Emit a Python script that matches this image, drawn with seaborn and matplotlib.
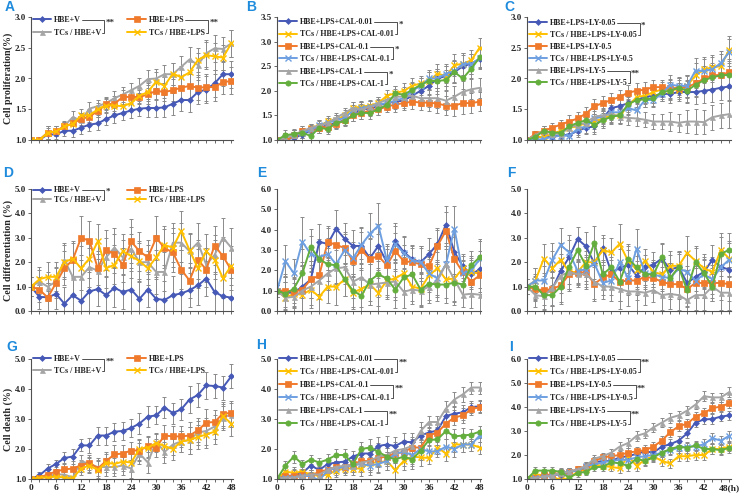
import matplotlib
matplotlib.use("Agg")
import matplotlib.pyplot as plt
import seaborn as sns
import numpy as np

sns.set_style("ticks")
plt.rcParams["font.family"] = ["Liberation Serif", "DejaVu Serif"]
plt.rcParams["font.weight"] = "bold"
plt.rcParams["axes.labelweight"] = "bold"

# ---------------- data ----------------
HOURS = [0, 2, 4, 6, 8, 10, 12, 14, 16, 18, 20, 22, 24, 26, 28, 30, 32, 34, 36, 38, 40, 42, 44, 46, 48]
XLAB_BOTTOM = ["0", "", "", "6", "", "", "12", "", "", "18", "", "", "24", "", "", "30", "", "", "36", "", "", "42", "", "", "48"]
XLAB_BOTTOM_H = ["0", "", "", "6", "", "", "12", "", "", "18", "", "", "24", "", "", "30", "", "", "36", "", "", "42", "", "", "48(h)"]

LABELS_V = ["HBE+V", "TCs / HBE+V", "HBE+LPS", "TCs / HBE+LPS"]
LABELS_CAL = ["HBE+LPS+CAL-0.01", "TCs / HBE+LPS+CAL-0.01", "HBE+LPS+CAL-0.1",
              "TCs / HBE+LPS+CAL-0.1", "HBE+LPS+CAL-1", "TCs / HBE+LPS+CAL-1"]
LABELS_LY = ["HBE+LPS+LY-0.05", "TCs / HBE+LPS+LY-0.05", "HBE+LPS+LY-0.5",
             "TCs / HBE+LPS+LY-0.5", "HBE+LPS+LY-5", "TCs / HBE+LPS+LY-5"]

# Panel A - proliferation
A_HBE_V = [1.00, 1.00, 1.09, 1.09, 1.15, 1.15, 1.20, 1.25, 1.27, 1.34, 1.40, 1.44, 1.48, 1.51, 1.52, 1.52, 1.53, 1.59, 1.65, 1.65, 1.78, 1.82, 1.92, 2.07, 2.07]
A_TCS_V = [1.00, 1.00, 1.12, 1.14, 1.23, 1.37, 1.32, 1.51, 1.55, 1.60, 1.68, 1.74, 1.81, 1.88, 1.99, 2.00, 2.07, 2.07, 2.19, 2.31, 2.22, 2.41, 2.49, 2.48, 2.57]
A_HBE_LPS = [1.00, 1.00, 1.12, 1.14, 1.22, 1.27, 1.34, 1.38, 1.47, 1.58, 1.59, 1.70, 1.70, 1.70, 1.74, 1.80, 1.78, 1.81, 1.85, 1.88, 1.85, 1.86, 1.86, 1.94, 1.96]
A_TCS_LPS = [1.00, 1.00, 1.12, 1.14, 1.22, 1.26, 1.40, 1.40, 1.50, 1.56, 1.56, 1.55, 1.60, 1.72, 1.78, 1.95, 1.88, 2.08, 2.02, 2.10, 2.30, 2.38, 2.36, 2.34, 2.57]
A_ERR = [0.0, 0.05, 0.10, 0.08, 0.08, 0.10, 0.10, 0.10, 0.10, 0.10, 0.12, 0.12, 0.12, 0.12, 0.15, 0.15, 0.15, 0.18, 0.18, 0.20, 0.20, 0.22, 0.22, 0.20, 0.22]

# Panel B - proliferation, CAL
B_CAL001 = [1.00, 1.00, 1.05, 1.10, 1.20, 1.25, 1.30, 1.35, 1.40, 1.50, 1.65, 1.62, 1.70, 1.75, 1.78, 1.80, 1.90, 2.00, 2.10, 2.25, 2.30, 2.38, 2.50, 2.55, 2.65]
B_TCS001 = [1.00, 0.98, 1.10, 1.15, 1.25, 1.28, 1.38, 1.40, 1.50, 1.65, 1.68, 1.70, 1.75, 1.90, 1.95, 2.00, 2.10, 2.15, 2.20, 2.35, 2.30, 2.52, 2.55, 2.62, 2.88]
B_CAL01 = [1.00, 0.97, 1.10, 1.18, 1.22, 1.25, 1.27, 1.32, 1.40, 1.50, 1.55, 1.60, 1.62, 1.68, 1.72, 1.75, 1.78, 1.76, 1.76, 1.74, 1.70, 1.70, 1.75, 1.75, 1.78]
B_TCS01 = [1.00, 1.05, 1.10, 1.15, 1.20, 1.30, 1.35, 1.40, 1.45, 1.60, 1.65, 1.68, 1.72, 1.75, 1.80, 1.85, 2.00, 2.10, 2.25, 2.25, 2.35, 2.40, 2.55, 2.55, 2.66]
B_CAL1 = [1.00, 1.05, 1.10, 1.18, 1.25, 1.30, 1.35, 1.45, 1.55, 1.65, 1.62, 1.68, 1.75, 1.82, 1.88, 1.88, 1.90, 1.85, 1.85, 1.85, 1.80, 1.88, 1.98, 2.03, 2.06]
B_TCS1 = [1.00, 1.10, 1.12, 1.15, 1.08, 1.25, 1.22, 1.35, 1.38, 1.50, 1.55, 1.55, 1.62, 1.72, 1.95, 1.92, 2.02, 2.12, 2.20, 2.20, 2.22, 2.38, 2.25, 2.45, 2.68]
B_ERR = [0.0, 0.10, 0.10, 0.10, 0.08, 0.10, 0.10, 0.10, 0.10, 0.12, 0.12, 0.12, 0.12, 0.12, 0.15, 0.15, 0.15, 0.15, 0.18, 0.20, 0.20, 0.22, 0.22, 0.20, 0.20]

# Panel C - proliferation, LY
C_LY005 = [1.00, 1.05, 1.05, 1.05, 1.08, 1.08, 1.15, 1.20, 1.22, 1.35, 1.52, 1.55, 1.60, 1.65, 1.70, 1.72, 1.75, 1.75, 1.78, 1.78, 1.78, 1.80, 1.82, 1.85, 1.87]
C_TCS005 = [1.00, 1.05, 1.05, 1.10, 1.15, 1.20, 1.22, 1.28, 1.30, 1.35, 1.40, 1.40, 1.55, 1.70, 1.72, 1.78, 1.82, 1.82, 1.82, 1.88, 2.05, 2.15, 2.18, 2.20, 2.47]
C_LY05 = [1.00, 1.10, 1.15, 1.20, 1.25, 1.30, 1.35, 1.43, 1.55, 1.60, 1.65, 1.70, 1.77, 1.80, 1.82, 1.86, 1.86, 1.84, 1.85, 1.86, 1.92, 2.00, 2.05, 2.06, 2.10]
C_TCS05 = [1.00, 1.00, 1.02, 1.05, 1.07, 1.07, 1.18, 1.22, 1.35, 1.38, 1.45, 1.45, 1.52, 1.48, 1.65, 1.65, 1.75, 1.90, 1.88, 1.88, 2.13, 2.12, 2.15, 2.25, 2.43]
C_LY5 = [1.00, 1.08, 1.15, 1.10, 1.10, 1.20, 1.25, 1.28, 1.38, 1.40, 1.42, 1.38, 1.36, 1.35, 1.33, 1.30, 1.30, 1.30, 1.28, 1.30, 1.30, 1.29, 1.37, 1.40, 1.42]
C_TCS5 = [1.00, 1.05, 1.15, 1.12, 1.12, 1.22, 1.28, 1.32, 1.25, 1.32, 1.38, 1.40, 1.58, 1.65, 1.66, 1.68, 1.78, 1.80, 1.85, 1.80, 1.90, 1.97, 2.02, 2.05, 2.06]
C_ERR = [0.0, 0.05, 0.08, 0.08, 0.08, 0.10, 0.10, 0.10, 0.12, 0.12, 0.12, 0.12, 0.12, 0.12, 0.12, 0.12, 0.12, 0.15, 0.15, 0.18, 0.20, 0.20, 0.20, 0.20, 0.22]

# Panel D - differentiation
D_HBE_V = [1.00, 0.58, 0.56, 0.70, 0.30, 0.65, 0.42, 0.80, 0.90, 0.65, 0.95, 0.78, 0.88, 0.50, 0.88, 0.50, 0.45, 0.65, 0.72, 0.85, 1.05, 1.33, 0.78, 0.60, 0.55]
D_TCS_V = [1.00, 1.20, 1.00, 1.20, 2.10, 1.40, 1.40, 1.80, 1.65, 2.20, 2.60, 2.20, 2.55, 2.00, 2.00, 1.60, 1.60, 2.80, 2.80, 2.45, 2.80, 1.90, 2.30, 3.00, 2.60]
D_HBE_LPS = [1.00, 0.88, 0.55, 1.15, 1.75, 2.10, 3.00, 2.88, 1.75, 2.50, 2.35, 1.90, 2.85, 2.45, 2.20, 3.00, 2.58, 2.40, 1.70, 1.25, 2.10, 1.70, 2.68, 2.25, 1.68]
D_TCS_LPS = [1.00, 1.30, 1.40, 1.40, 2.00, 2.15, 1.75, 2.15, 2.85, 1.75, 1.90, 2.45, 2.25, 2.05, 1.75, 2.20, 2.70, 2.60, 3.28, 2.50, 1.75, 2.45, 2.10, 1.35, 1.85]
D_ERR = [0.40, 0.50, 0.60, 0.60, 0.70, 0.70, 0.90, 0.80, 0.70, 0.80, 0.80, 0.70, 0.90, 0.80, 0.70, 0.90, 0.80, 0.80, 0.80, 0.70, 0.80, 0.70, 0.80, 0.80, 0.80]

# Panel E - differentiation, CAL
E_CAL001 = [1.00, 0.90, 0.90, 1.20, 1.55, 3.40, 3.30, 4.05, 3.55, 3.20, 3.20, 2.60, 3.20, 2.40, 3.45, 2.90, 2.55, 2.40, 2.80, 3.30, 4.25, 2.90, 2.20, 1.80, 2.05]
E_TCS001 = [1.00, 0.65, 0.85, 0.80, 1.05, 0.70, 1.20, 1.20, 1.55, 0.90, 1.10, 1.30, 0.90, 1.50, 1.60, 1.85, 1.20, 1.10, 1.75, 2.10, 1.55, 1.60, 2.10, 1.90, 1.85]
E_CAL01 = [1.00, 1.00, 0.95, 1.05, 1.55, 1.75, 3.40, 3.25, 3.10, 2.45, 3.00, 2.55, 2.70, 2.25, 2.95, 2.45, 2.40, 2.30, 2.20, 3.20, 3.95, 2.55, 1.90, 1.45, 1.75]
E_TCS01 = [1.00, 2.45, 1.85, 3.40, 2.80, 2.65, 2.80, 2.30, 3.00, 2.60, 3.25, 3.80, 4.20, 2.50, 3.30, 2.85, 2.50, 2.40, 1.85, 1.60, 2.30, 4.05, 1.85, 2.00, 2.55]
E_CAL1 = [1.00, 0.65, 0.70, 1.00, 1.20, 1.50, 1.85, 2.10, 2.15, 1.45, 1.65, 1.30, 1.35, 1.40, 1.45, 0.95, 1.05, 1.00, 1.20, 1.50, 2.30, 1.55, 0.80, 0.85, 0.80]
E_TCS1 = [1.00, 0.85, 1.10, 1.85, 3.15, 2.55, 2.30, 2.25, 1.55, 1.00, 0.75, 1.50, 1.80, 1.60, 1.05, 1.65, 1.80, 1.05, 1.35, 1.30, 1.30, 1.40, 1.30, 2.25, 2.65]
E_ERR = [0.30, 0.80, 0.70, 1.20, 0.90, 0.90, 0.80, 0.90, 0.80, 0.80, 0.90, 1.00, 1.10, 0.80, 0.90, 0.80, 0.70, 0.80, 0.80, 0.80, 0.90, 1.10, 0.60, 0.70, 0.90]

# Panel F - differentiation, LY
F_LY005 = [1.00, 0.95, 0.70, 0.90, 1.65, 2.20, 2.95, 2.65, 1.95, 2.60, 1.60, 1.75, 1.90, 1.45, 1.80, 1.90, 2.15, 1.70, 1.80, 1.15, 1.40, 1.60, 2.10, 1.80, 1.70]
F_TCS005 = [1.00, 1.25, 2.15, 1.75, 2.10, 1.60, 1.60, 2.00, 2.00, 2.50, 2.40, 2.75, 2.05, 1.70, 2.05, 1.60, 1.50, 1.85, 1.85, 2.38, 2.05, 1.75, 1.60, 2.50, 2.15]
F_LY05 = [1.00, 0.90, 0.85, 0.90, 1.05, 1.50, 1.55, 1.60, 1.10, 1.38, 1.50, 1.20, 1.25, 1.25, 1.40, 1.35, 1.20, 1.10, 1.10, 0.90, 1.15, 1.15, 1.15, 1.15, 1.10]
F_TCS05 = [1.00, 1.25, 1.25, 2.10, 2.70, 2.40, 1.65, 1.70, 1.95, 1.15, 1.25, 2.00, 1.35, 2.55, 1.55, 1.50, 1.40, 1.35, 1.75, 1.60, 1.25, 1.50, 1.30, 1.80, 2.10]
F_LY5 = [1.00, 0.65, 0.60, 0.95, 1.45, 1.60, 1.50, 1.50, 1.20, 1.00, 1.00, 0.90, 0.80, 0.80, 0.75, 0.85, 0.65, 0.70, 0.65, 0.45, 0.65, 0.65, 1.00, 0.75, 0.75]
F_TCS5 = [1.00, 1.00, 0.65, 0.65, 1.00, 1.80, 2.50, 1.85, 2.80, 1.50, 1.80, 1.20, 2.15, 1.80, 1.50, 1.50, 2.20, 1.35, 1.80, 0.85, 2.00, 1.55, 1.00, 2.35, 2.50]
F_ERR = [0.30, 0.50, 0.60, 0.70, 0.70, 0.70, 0.50, 0.60, 0.70, 0.50, 0.60, 0.80, 0.60, 0.80, 0.50, 0.50, 0.60, 0.60, 0.60, 0.70, 0.60, 0.60, 0.60, 0.70, 0.70]

# Panel G - death
G_HBE_V = [1.00, 1.12, 1.35, 1.50, 1.70, 1.75, 2.12, 2.12, 2.45, 2.45, 2.58, 2.60, 2.70, 2.85, 3.08, 3.12, 3.38, 3.20, 3.32, 3.65, 3.80, 4.12, 4.10, 4.05, 4.42]
G_TCS_V = [1.00, 1.00, 1.10, 1.15, 1.15, 1.05, 1.60, 1.50, 1.40, 1.40, 1.40, 1.45, 1.35, 1.85, 1.55, 2.25, 1.90, 2.15, 2.25, 2.30, 2.55, 2.60, 2.75, 3.05, 3.15]
G_HBE_LPS = [1.00, 1.05, 1.15, 1.25, 1.32, 1.35, 1.45, 1.55, 1.35, 1.60, 1.82, 1.85, 1.95, 1.95, 2.10, 2.05, 2.45, 2.42, 2.42, 2.45, 2.62, 2.88, 2.90, 3.18, 3.20]
G_TCS_LPS = [1.00, 1.05, 1.05, 1.08, 1.05, 1.02, 1.35, 1.45, 1.30, 1.55, 1.50, 1.58, 1.55, 2.00, 2.05, 2.20, 2.10, 2.00, 2.25, 2.30, 2.40, 2.48, 2.58, 3.10, 2.85]
G_ERR = [0.05, 0.10, 0.15, 0.15, 0.20, 0.25, 0.20, 0.25, 0.30, 0.30, 0.30, 0.30, 0.30, 0.35, 0.35, 0.30, 0.35, 0.35, 0.35, 0.45, 0.40, 0.45, 0.40, 0.40, 0.40]

# Panel H - death, CAL
H_CAL001 = [1.00, 1.10, 1.12, 1.20, 1.45, 1.30, 1.50, 1.55, 1.58, 1.75, 1.85, 1.85, 2.10, 2.15, 2.10, 2.25, 2.22, 2.45, 2.55, 2.62, 3.10, 3.18, 3.22, 3.40, 3.42]
H_TCS001 = [1.00, 1.25, 1.20, 1.25, 1.15, 1.10, 1.15, 1.28, 1.35, 1.35, 1.35, 1.55, 1.55, 1.60, 1.30, 1.60, 1.75, 1.72, 1.70, 2.05, 1.85, 2.15, 2.15, 2.15, 2.05]
H_CAL01 = [1.00, 1.10, 1.10, 1.15, 1.10, 1.25, 1.30, 1.40, 1.40, 1.50, 1.60, 1.60, 1.70, 1.75, 1.85, 1.90, 2.05, 2.05, 2.45, 2.55, 2.85, 3.05, 3.12, 3.32, 3.40]
H_TCS01 = [1.00, 1.05, 1.05, 1.10, 1.10, 0.95, 1.30, 1.35, 1.40, 1.45, 1.50, 1.45, 1.50, 1.60, 1.85, 1.90, 1.80, 2.00, 1.92, 1.92, 2.08, 2.00, 2.15, 2.15, 2.45]
H_CAL1 = [1.00, 1.05, 1.05, 1.10, 1.15, 1.15, 1.30, 1.40, 1.45, 1.45, 1.55, 1.60, 1.75, 1.80, 1.95, 2.00, 2.10, 2.60, 2.90, 2.90, 3.35, 3.65, 3.82, 4.05, 4.05]
H_TCS1 = [1.00, 1.45, 1.75, 1.50, 1.65, 1.55, 1.65, 1.80, 1.80, 1.50, 2.00, 2.05, 1.90, 1.75, 1.65, 1.75, 1.65, 1.95, 2.30, 2.32, 2.60, 2.42, 2.45, 2.48, 2.58]
H_ERR = [0.05, 0.15, 0.20, 0.15, 0.15, 0.15, 0.20, 0.20, 0.20, 0.20, 0.25, 0.30, 0.30, 0.30, 0.30, 0.30, 0.30, 0.30, 0.20, 0.20, 0.25, 0.25, 0.25, 0.20, 0.20]

# Panel I - death, LY
I_LY005 = [1.00, 1.05, 1.10, 1.15, 1.20, 1.30, 1.35, 1.40, 1.70, 1.75, 1.75, 1.90, 1.95, 2.05, 2.15, 2.10, 2.35, 2.45, 2.60, 2.90, 3.35, 3.48, 3.50, 3.60, 3.65]
I_TCS005 = [1.00, 1.20, 1.15, 1.10, 0.95, 1.05, 1.30, 1.40, 1.60, 1.55, 1.50, 1.45, 1.95, 1.55, 1.80, 1.95, 1.75, 1.65, 1.95, 1.95, 2.00, 2.00, 2.25, 2.25, 2.35]
I_LY05 = [1.00, 1.05, 1.15, 1.20, 1.25, 1.30, 1.40, 1.50, 1.75, 1.90, 1.95, 2.00, 2.10, 2.15, 2.20, 2.35, 2.60, 2.95, 3.20, 3.30, 3.60, 3.75, 3.95, 4.02, 4.15]
I_TCS05 = [1.00, 1.05, 1.10, 1.12, 1.25, 1.30, 1.35, 1.55, 1.60, 1.70, 1.75, 1.80, 1.80, 1.90, 1.95, 2.00, 2.10, 2.20, 2.30, 2.35, 2.35, 2.45, 2.70, 2.60, 2.80]
I_LY5 = [1.00, 1.05, 1.10, 1.15, 1.25, 1.30, 1.40, 1.55, 1.85, 1.95, 2.10, 2.35, 2.50, 2.80, 2.90, 3.15, 3.35, 3.55, 3.65, 3.85, 4.10, 4.45, 4.40, 4.40, 4.62]
I_TCS5 = [1.00, 1.35, 1.35, 1.35, 1.30, 1.05, 1.25, 1.30, 1.50, 1.50, 1.70, 1.65, 1.55, 1.85, 1.75, 1.90, 2.10, 2.25, 2.35, 2.30, 2.40, 2.25, 2.25, 2.20, 2.30]
I_ERR = [0.05, 0.15, 0.15, 0.15, 0.15, 0.15, 0.15, 0.15, 0.15, 0.15, 0.15, 0.20, 0.20, 0.20, 0.20, 0.20, 0.20, 0.20, 0.20, 0.20, 0.20, 0.20, 0.20, 0.20, 0.20]

# ---------------- styles ----------------
BLUE, GRAY, ORANGE, YELLOW, LBLUE, GREEN = "#4659B6", "#A5A5A5", "#F07A2C", "#FFC000", "#6E9FE0", "#63AE3D"
STYLE4 = [(BLUE, "D", 3.0), (GRAY, "^", 3.6), (ORANGE, "s", 4.2), (YELLOW, "x", 3.8)]
STYLE6 = [(BLUE, "D", 3.0), (YELLOW, "x", 3.8), (ORANGE, "s", 4.2), (LBLUE, "x", 3.8), (GRAY, "^", 3.6), (GREEN, "o", 3.8)]
LETTER_COLOR = "#1F8BDC"

W, H = 746, 494
COL_L = [31, 277, 527]
COL_R = [232.5, 481, 730.5]
ROW_T = [17, 189, 359]
ROW_B = [140, 311, 479]

panels = [
    dict(letter="A", r=0, c=0, lp=(10, 7), ylim=(1.0, 3.0), yt=[1.0, 1.5, 2.0, 2.5, 3.0], labels=LABELS_V,
         series=[A_HBE_V, A_TCS_V, A_HBE_LPS, A_TCS_LPS], err=A_ERR, ylabel="Cell proliferation(%)",
         ncol=2, br=[(0, 1, "**"), (2, 3, "**")], ls=0.65, ly=1.025),
    dict(letter="B", r=0, c=1, lp=(251, 7), ylim=(1.0, 3.5), yt=[1.0, 1.5, 2.0, 2.5, 3.0, 3.5], labels=LABELS_CAL,
         series=[B_CAL001, B_TCS001, B_CAL01, B_TCS01, B_CAL1, B_TCS1], err=B_ERR, ylabel=None,
         ncol=1, br=[(0, 1, "*"), (2, 3, "*"), (4, 5, "*")], ls=0.55, ly=1.005),
    dict(letter="C", r=0, c=2, lp=(509, 7), ylim=(1.0, 3.0), yt=[1.0, 1.5, 2.0, 2.5, 3.0], labels=LABELS_LY,
         series=[C_LY005, C_TCS005, C_LY05, C_TCS05, C_LY5, C_TCS5], err=C_ERR, ylabel=None,
         ncol=1, br=[(0, 1, "*"), (4, 5, "**")], ls=0.5, ly=1.0),
    dict(letter="D", r=1, c=0, lp=(8, 173), ylim=(0.0, 5.0), yt=[0, 1, 2, 3, 4, 5], labels=LABELS_V,
         series=[D_HBE_V, D_TCS_V, D_HBE_LPS, D_TCS_LPS], err=D_ERR, ylabel="Cell differentiation (%)",
         ncol=2, br=[(0, 1, "*")], ls=0.2, ly=1.035),
    dict(letter="E", r=1, c=1, lp=(262, 173), ylim=(0.0, 6.0), yt=[0, 1, 2, 3, 4, 5, 6], labels=LABELS_CAL,
         series=[E_CAL001, E_TCS001, E_CAL01, E_TCS01, E_CAL1, E_TCS1], err=E_ERR, ylabel=None,
         ncol=0, br=[], ls=0.5, ly=1.0),
    dict(letter="F", r=1, c=2, lp=(511, 173), ylim=(0.0, 5.0), yt=[0, 1, 2, 3, 4, 5], labels=LABELS_LY,
         series=[F_LY005, F_TCS005, F_LY05, F_TCS05, F_LY5, F_TCS5], err=F_ERR, ylabel=None,
         ncol=0, br=[], ls=0.5, ly=1.0),
    dict(letter="G", r=2, c=0, lp=(12, 347), ylim=(1.0, 5.0), yt=[1, 2, 3, 4, 5], labels=LABELS_V,
         series=[G_HBE_V, G_TCS_V, G_HBE_LPS, G_TCS_LPS], err=G_ERR, ylabel="Cell death (%)",
         ncol=2, br=[(0, 1, "**")], ls=0.5, ly=1.045),
    dict(letter="H", r=2, c=1, lp=(261, 345), ylim=(1.0, 5.0), yt=[1, 2, 3, 4, 5], labels=LABELS_CAL,
         series=[H_CAL001, H_TCS001, H_CAL01, H_TCS01, H_CAL1, H_TCS1], err=H_ERR, ylabel=None,
         ncol=1, br=[(0, 1, "**"), (2, 3, "**"), (4, 5, "**")], ls=0.62, ly=1.045),
    dict(letter="I", r=2, c=2, lp=(511, 347), ylim=(1.0, 6.0), yt=[1, 2, 3, 4, 5, 6], labels=LABELS_LY,
         series=[I_LY005, I_TCS005, I_LY05, I_TCS05, I_LY5, I_TCS5], err=I_ERR, ylabel=None,
         ncol=1, br=[(0, 1, "**"), (2, 3, "**"), (4, 5, "**")], ls=0.62, ly=1.045),
]

fig = plt.figure(figsize=(W / 100, H / 100), dpi=100)
fig.patch.set_facecolor("white")

legends = []
for p in panels:
    l, r = COL_L[p["c"]], COL_R[p["c"]]
    t, b = ROW_T[p["r"]], ROW_B[p["r"]]
    ax = fig.add_axes([l / W, 1 - b / H, (r - l) / W, (b - t) / H])
    style = STYLE4 if len(p["series"]) == 4 else STYLE6
    for vals, lab, (col, mk, ms) in zip(p["series"], p["labels"], style):
        ax.errorbar(HOURS, vals, yerr=p["err"], fmt="none", ecolor="#8a8a8a",
                    elinewidth=0.7, capsize=1.4, capthick=0.7, zorder=1)
        sns.lineplot(x=HOURS, y=vals, ax=ax, color=col, marker=mk, markersize=ms,
                     markeredgecolor=col, markeredgewidth=1.0 if mk == "x" else 0.5,
                     linewidth=1.4, label=lab, legend=False, zorder=2)
    ax.set_xlim(0, 48.3)
    ax.set_ylim(*p["ylim"])
    ax.set_xticks(HOURS)
    if p["r"] == 2:
        ax.set_xticklabels(XLAB_BOTTOM_H if p["c"] == 2 else XLAB_BOTTOM, fontsize=6.8, fontweight="bold")
    else:
        ax.set_xticklabels([])
    ax.set_yticks(p["yt"])
    ax.set_yticklabels(["%.1f" % v for v in p["yt"]], fontsize=6.5, fontweight="bold")
    for s in ["top", "right"]:
        ax.spines[s].set_visible(False)
    for s in ["left", "bottom"]:
        ax.spines[s].set_color("#505050")
        ax.spines[s].set_linewidth(0.8)
    ax.tick_params(axis="both", direction="out", length=2.2, width=0.6, color="#505050", pad=1.2)
    ax.set_xlabel("")
    if p["ylabel"]:
        ax.set_ylabel(p["ylabel"], fontsize=7.2, fontweight="bold")
        ax.yaxis.set_label_coords(-(l - 13.5) / (r - l), 0.5)
    else:
        ax.set_ylabel("")
    fig.text(p["lp"][0] / W, 1 - p["lp"][1] / H, p["letter"], ha="center", va="center",
             fontsize=10, fontweight="bold", family="Liberation Sans", color=LETTER_COLOR)
    if p["ncol"]:
        h, lb = ax.get_legend_handles_labels()
        leg = ax.legend(h, lb, ncol=p["ncol"], loc="upper left", bbox_to_anchor=(0.0, p["ly"]),
                        frameon=False, fontsize=5.8, handlelength=2.3, handletextpad=0.4,
                        labelspacing=p["ls"], columnspacing=3.2, borderpad=0.2, borderaxespad=0.0)
        legends.append((ax, leg, p["br"]))

fig.canvas.draw()
rend = fig.canvas.get_renderer()
for ax, leg, brs in legends:
    texts = leg.get_texts()
    inv = ax.transAxes.inverted()
    for i, j, star in brs:
        b1 = texts[i].get_window_extent(rend)
        b2 = texts[j].get_window_extent(rend)
        xr = max(b1.x1, b2.x1) + 2.5
        y1 = (b1.y0 + b1.y1) / 2
        y2 = (b2.y0 + b2.y1) / 2
        pts = inv.transform([(b1.x1 + 0.5, y1), (xr, y1), (xr, y2), (b2.x1 + 0.5, y2)])
        ax.plot(pts[:, 0], pts[:, 1], transform=ax.transAxes, color="#333333", lw=0.6, clip_on=False)
        sx, sy = inv.transform([(xr + 1.5, (y1 + y2) / 2 + 3)])[0]
        ax.text(sx, sy, star, transform=ax.transAxes, fontsize=6.5, fontweight="bold",
                ha="left", va="center", color="#333333")

fig.savefig("out.png", dpi=100, facecolor="white")
